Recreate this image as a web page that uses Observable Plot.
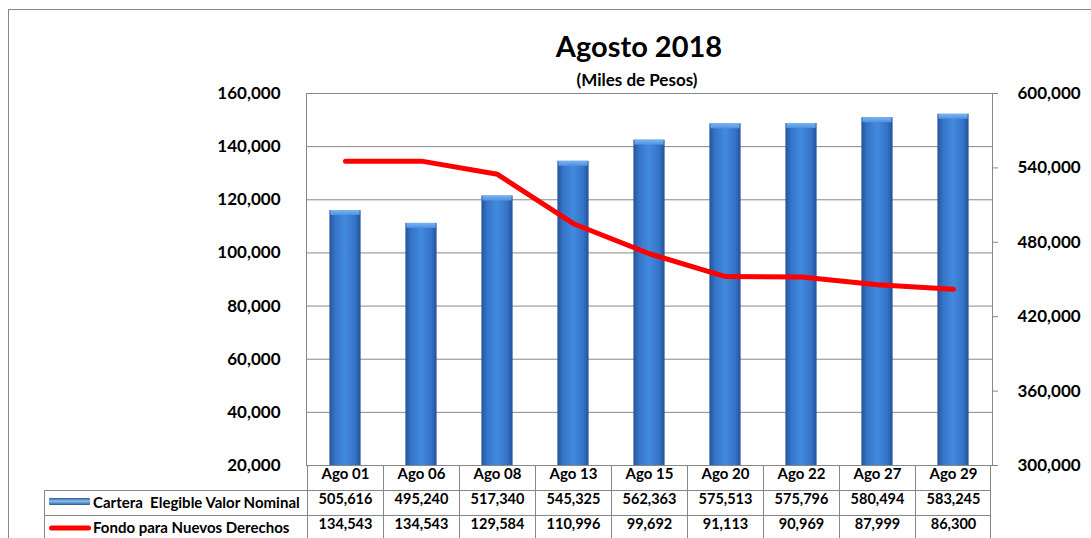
<!DOCTYPE html>
<html>
<head>
<meta charset="utf-8">
<script src="https://cdn.jsdelivr.net/npm/d3@7"></script>
<script src="https://cdn.jsdelivr.net/npm/@observablehq/plot@0.6"></script>
<style>
  html, body { margin: 0; padding: 0; background: #fff; }
  #chart { position: relative; width: 1091px; height: 538px; overflow: hidden; }
  #chart svg { font-family: Lato, "Open Sans", sans-serif; }
</style>
</head>
<body>
<div id="chart"></div>
<script>
// ---- data ----
const categories = ["Ago 01", "Ago 06", "Ago 08", "Ago 13", "Ago 15", "Ago 20", "Ago 22", "Ago 27", "Ago 29"];
const cartera = [505616, 495240, 517340, 545325, 562363, 575513, 575796, 580494, 583245];
const fondo = [134543, 134543, 129584, 110996, 99692, 91113, 90969, 87999, 86300];
const leftTicks = [20000, 40000, 60000, 80000, 100000, 120000, 140000, 160000];
const rightTicks = [300000, 360000, 420000, 480000, 540000, 600000];
const seriesNames = ["Cartera  Elegible Valor Nominal", "Fondo para Nuevos Derechos"];
const title = "Agosto 2018";
const subtitle = "(Miles de Pesos)";

const data = categories.map((c, i) => ({cat: c, cartera: cartera[i], fondo: fondo[i]}));

// right axis (300k-600k) mapped onto left axis (20k-160k)
const L0 = 20000, L1 = 160000, R0 = 300000, R1 = 600000;
const toLeft = v => L0 + (v - R0) * (L1 - L0) / (R1 - R0);
const toRight = v => R0 + (v - L0) * (R1 - R0) / (L1 - L0);
const fmt = d3.format(",");
const grid = "#878787";

const plot = Plot.plot({
  width: 1091,
  height: 538,
  marginTop: 93,
  marginBottom: 73,
  marginLeft: 306,
  marginRight: 99,
  x: {type: "band", domain: categories, padding: 0, axis: null},
  y: {domain: [L0, L1], axis: null},
  marks: [
    Plot.ruleY(leftTicks.slice(1, -1), {stroke: grid, strokeWidth: 1}),
    Plot.frame({stroke: grid}),
    Plot.axisY(leftTicks, {anchor: "left", label: null, tickSize: 0, tickPadding: 26, tickFormat: fmt,
      fontSize: 17, fontWeight: "bold", fill: "#000"}),
    Plot.axisY(rightTicks.map(toLeft), {anchor: "right", label: null, tickSize: 5, tickPadding: 20, stroke: grid,
      tickFormat: d => fmt(Math.round(toRight(d))), fontSize: 17, fontWeight: "bold", fill: "#000"}),
    Plot.barY(data, {x: "cat", y1: L0, y2: d => toLeft(d.cartera), fill: "url(#barGrad)",
      insetLeft: 22.4, insetRight: 22.4}),
    Plot.barY(data, {x: "cat", y1: d => toLeft(d.cartera), y2: d => toLeft(d.cartera), fill: "url(#capGrad)",
      insetLeft: 23.4, insetRight: 23.4, insetBottom: -5}),
    Plot.line(data, {x: "cat", y: "fondo", stroke: "#ff0000", strokeWidth: 5,
      strokeLinecap: "round", strokeLinejoin: "round"}),
    Plot.text(data, {x: "cat", text: "cat", frameAnchor: "bottom", dy: 13, fontSize: 15, fontWeight: "bold", fill: "#000"}),
    Plot.text(data, {x: "cat", text: d => fmt(d.cartera), frameAnchor: "bottom", dy: 38.5, fontSize: 14.5, fontWeight: "bold", fill: "#000"}),
    Plot.text(data, {x: "cat", text: d => fmt(d.fondo), frameAnchor: "bottom", dy: 63.5, fontSize: 14.5, fontWeight: "bold", fill: "#000"})
  ]
});

const svg = d3.select(plot);
const defs = svg.insert("defs", ":first-child");
const g1 = defs.append("linearGradient").attr("id", "barGrad").attr("x1", 0).attr("x2", 1).attr("y1", 0).attr("y2", 0);
[["0%", "#24539a"], ["18%", "#3674c8"], ["50%", "#418ade"], ["82%", "#3674c8"], ["100%", "#24539a"]]
  .forEach(([o, c]) => g1.append("stop").attr("offset", o).attr("stop-color", c));
const g2 = defs.append("linearGradient").attr("id", "capGrad").attr("x1", 0).attr("x2", 0).attr("y1", 0).attr("y2", 1);
[["0%", "#7cb4f0"], ["100%", "#4f92e2"]]
  .forEach(([o, c]) => g2.append("stop").attr("offset", o).attr("stop-color", c));
const g3 = defs.append("linearGradient").attr("id", "legGrad").attr("x1", 0).attr("x2", 0).attr("y1", 0).attr("y2", 1);
[["0%", "#2a5a9a"], ["45%", "#8ec0ee"], ["100%", "#2a5a9a"]]
  .forEach(([o, c]) => g3.append("stop").attr("offset", o).attr("stop-color", c));

// table grid using the plot's x scale
const xs = plot.scale("x");
const bw = xs.bandwidth;
const xR = xs.apply(categories[categories.length - 1]) + bw;
const tg = svg.append("g").attr("stroke", grid).attr("stroke-width", 1).attr("fill", "none");
const rowY = [465.5, 490.5, 515.5, 545];
tg.append("line").attr("x1", 44.5).attr("x2", xR).attr("y1", rowY[1]).attr("y2", rowY[1]);
tg.append("line").attr("x1", 44.5).attr("x2", xR).attr("y1", rowY[2]).attr("y2", rowY[2]);
tg.append("line").attr("x1", 44.5).attr("x2", 44.5).attr("y1", rowY[1]).attr("y2", rowY[3]);
categories.forEach(c => {
  const x = Math.round(xs.apply(c)) + 0.5;
  tg.append("line").attr("x1", x).attr("x2", x).attr("y1", rowY[0]).attr("y2", rowY[3]);
});
tg.append("line").attr("x1", Math.round(xR) - 0.5).attr("x2", Math.round(xR) - 0.5).attr("y1", rowY[0]).attr("y2", rowY[3]);

// legend swatches + labels in table
svg.append("rect").attr("x", 49).attr("y", 498).attr("width", 41).attr("height", 7).attr("rx", 1)
  .attr("fill", "url(#legGrad)");
svg.append("line").attr("x1", 51.5).attr("x2", 88.5).attr("y1", 528).attr("y2", 528)
  .attr("stroke", "#ff0000").attr("stroke-width", 5).attr("stroke-linecap", "round");
const legT = svg.append("g").attr("text-anchor", "start").attr("font-size", 15).attr("font-weight", "bold")
  .attr("fill", "#000").style("white-space", "pre");
legT.append("text").attr("x", 93).attr("y", 503).attr("dy", "0.35em").text(seriesNames[0]);
legT.append("text").attr("x", 93).attr("y", 528).attr("dy", "0.35em").text(seriesNames[1]);

// title
svg.append("text").attr("x", 639).attr("y", 57).attr("text-anchor", "middle").attr("font-size", 29)
  .attr("font-weight", "bold").attr("fill", "#000").text(title);
svg.append("text").attr("x", 637).attr("y", 86).attr("text-anchor", "middle").attr("font-size", 17)
  .attr("font-weight", "bold").attr("fill", "#000").text(subtitle);

// outer border
svg.append("rect").attr("x", 8.5).attr("y", 9.5).attr("width", 1200).attr("height", 700)
  .attr("fill", "none").attr("stroke", grid);

document.getElementById("chart").appendChild(plot);
</script>
</body>
</html>
